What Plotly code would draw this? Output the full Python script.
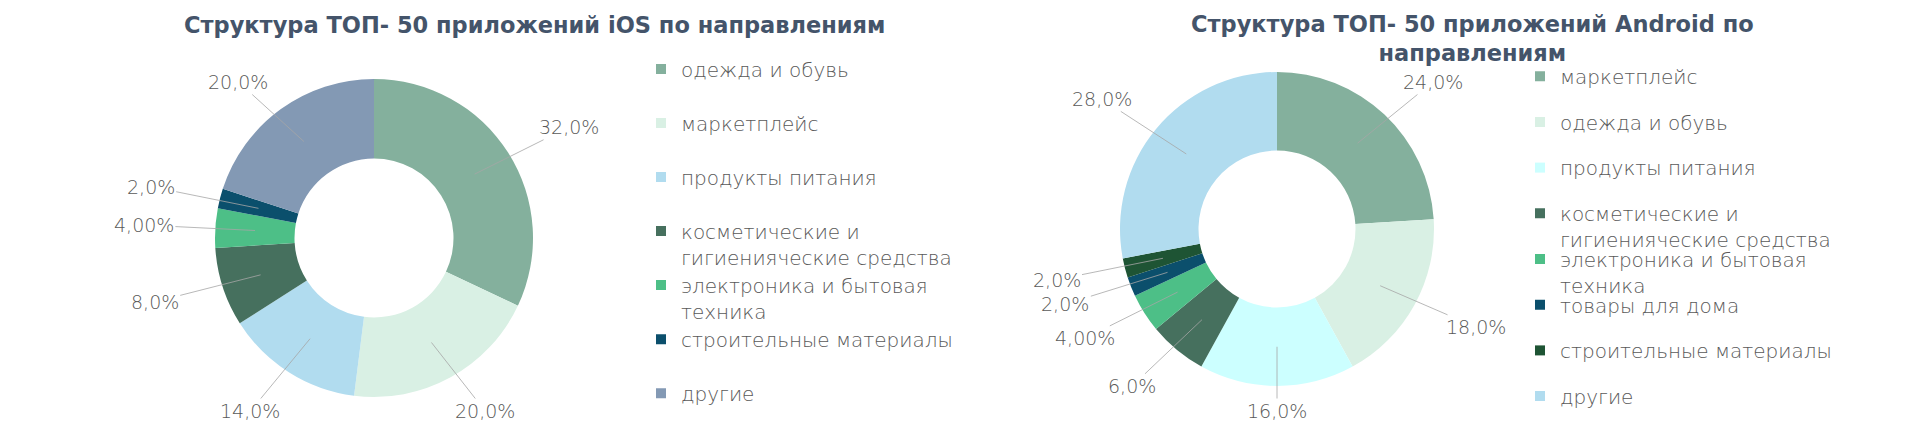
import math

import plotly.graph_objects as go

W, H = 1920, 432

# iOS chart data
ios_title = "Структура ТОП- 50 приложений iOS по направлениям"
ios_labels = [
    "одежда и обувь",
    "маркетплейс",
    "продукты питания",
    "косметические и<br>гигиенияческие средства",
    "электроника и бытовая<br>техника",
    "строительные материалы",
    "другие",
]
ios_values = [32, 20, 14, 8, 4, 2, 20]
ios_decimals = [1, 1, 1, 1, 2, 1, 1]

# Android chart data
android_title = "Структура ТОП- 50 приложений Android по<br>направлениям"
android_labels = [
    "маркетплейс",
    "одежда и обувь",
    "продукты питания",
    "косметические и<br>гигиенияческие средства",
    "электроника и бытовая<br>техника",
    "товары для дома",
    "строительные материалы",
    "другие",
]
android_values = [24, 18, 16, 6, 4, 2, 2, 28]
android_decimals = [1, 1, 1, 1, 2, 1, 1, 1]

# colours per slice
ios_colors = ["#84B09D", "#D9F0E4", "#B1DCEF", "#46705E", "#4DBF87", "#0B4F6C", "#8399B4"]
android_colors = ["#84B09D", "#D9F0E4", "#CCFFFF", "#46705E", "#4DBF87", "#0B4F6C", "#1E5434", "#B1DCEF"]

TEXT_FONT = dict(family="DejaVu Sans", size=19, color="#595959", weight=300)
LEGEND_FONT = dict(family="DejaVu Sans", size=20, color="#595959", weight=300)
TITLE_FONT = dict(family="DejaVu Sans", size=22.5, color="#44546A", weight="bold")

# layout of the two charts (pixels)
charts = [
    dict(title=ios_title, labels=ios_labels, values=ios_values, decimals=ios_decimals,
         colors=ios_colors, cx=374, cy=238, r=159, tx=534, ty=25,
         lx=641, lb0=76.7, lstep=54.05),
    dict(title=android_title, labels=android_labels, values=android_values,
         decimals=android_decimals, colors=android_colors, cx=1277, cy=229, r=157,
         tx=1472, ty=38.5, lx=1520, lb0=84, lstep=45.7),
]

fig = go.Figure()
annotations = []
legends = {}
n_leg = 0

for ch in charts:
    cx, cy, r = ch["cx"], ch["cy"], ch["r"]
    fig.add_trace(
        go.Pie(
            labels=[lab.replace("<br>", " ") for lab in ch["labels"]],
            values=ch["values"],
            marker=dict(colors=ch["colors"]),
            hole=0.5,
            sort=False,
            direction="clockwise",
            rotation=0,
            textinfo="none",
            showlegend=False,
            domain=dict(x=[(cx - r) / W, (cx + r) / W], y=[1 - (cy + r) / H, 1 - (cy - r) / H]),
        )
    )

    # data labels with leader lines, placed at the middle angle of each slice
    total = sum(ch["values"])
    cum = 0
    for v, d in zip(ch["values"], ch["decimals"]):
        ang = (cum + v / 2) / total * 2 * math.pi
        cum += v
        px = cx + 0.75 * r * math.sin(ang)
        py = cy - 0.75 * r * math.cos(ang)
        lx = cx + 1.45 * r * math.sin(ang)
        ly = min(max(cy - 1.3 * r * math.cos(ang), 82), H - 21)
        annotations.append(
            dict(
                x=px / W, y=1 - py / H, xref="paper", yref="paper",
                ax=lx - px, ay=ly - py,
                text=f"{v:.{d}f}%".replace(".", ","),
                showarrow=True, arrowhead=0, arrowwidth=0.8, arrowcolor="#A6A6A6",
                standoff=0, font=TEXT_FONT,
            )
        )

    # chart title
    annotations.append(
        dict(x=ch["tx"] / W, y=1 - ch["ty"] / H, xref="paper", yref="paper",
             text=f"<b>{ch['title']}</b>", showarrow=False, font=TITLE_FONT,
             xanchor="center", yanchor="middle")
    )

    # legend: one entry per legend box so spacing matches the original
    line_h = 1.3 * LEGEND_FONT["size"]
    for i, (lab, col) in enumerate(zip(ch["labels"], ch["colors"])):
        n_leg += 1
        key = "legend" if n_leg == 1 else f"legend{n_leg}"
        top = ch["lb0"] + i * ch["lstep"] - (6.5 + 0.8 * line_h)
        legends[key] = dict(
            x=ch["lx"] / W, y=1 - top / H, xanchor="left", yanchor="top",
            bgcolor="rgba(0,0,0,0)", font=LEGEND_FONT, valign="top",
        )
        fig.add_trace(
            go.Scatter(
                x=[None], y=[None], mode="markers", name=lab,
                marker=dict(symbol="square", size=10, color=col),
                legend=key, showlegend=True, hoverinfo="skip",
            )
        )

fig.update_layout(
    width=W,
    height=H,
    margin=dict(l=0, r=0, t=0, b=0),
    paper_bgcolor="white",
    plot_bgcolor="white",
    xaxis=dict(visible=False),
    yaxis=dict(visible=False),
    annotations=annotations,
    **legends,
)

# drop the default page margin so the figure sits at the window's corner
fig.write_html(
    "out.html",
    config={"displayModeBar": False},
    post_script="document.body.style.margin = '0';",
)
